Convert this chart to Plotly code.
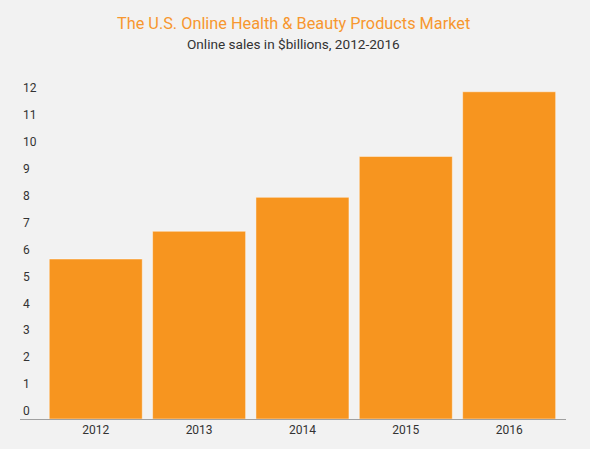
import plotly.graph_objects as go

years = ["2012", "2013", "2014", "2015", "2016"]
sales = [5.94, 6.97, 8.23, 9.75, 12.15]
y_ticks = list(range(0, 13))

title_text = "The U.S. Online Health &amp; Beauty Products Market"
subtitle_text = "Online sales in $billions, 2012-2016"

BG = "#f2f2f2"
ORANGE = "#f7951f"

Y_MAX = 13.33
LABEL_LIFT = 8 / 27.16  # tick labels sit about 8px above their value

fig = go.Figure()
fig.add_trace(
    go.Bar(
        x=years,
        y=sales,
        marker=dict(color=ORANGE, line=dict(color="rgba(255,255,255,0.45)", width=1)),
        hoverinfo="x+y",
    )
)
# invisible companion trace so the label axis (y2) is drawn
fig.add_trace(
    go.Scatter(
        x=years, y=sales, yaxis="y2", mode="markers",
        marker=dict(opacity=0), hoverinfo="skip", showlegend=False,
    )
)

fig.update_layout(
    width=590,
    height=449,
    paper_bgcolor=BG,
    plot_bgcolor=BG,
    margin=dict(l=20, r=24, t=60, b=27),
    bargap=0.1,
    showlegend=False,
    font=dict(family="Roboto", size=12, color="#333333"),
    annotations=[
        dict(text=title_text, x=0.5, y=1.102, xref="paper", yref="paper",
             xanchor="center", yanchor="middle", showarrow=False,
             font=dict(family="Roboto", size=16.3, color="#f7972f")),
        dict(text=subtitle_text, x=0.5, y=1.044, xref="paper", yref="paper",
             xanchor="center", yanchor="middle", showarrow=False,
             font=dict(family="Roboto", size=13.6, color="#333333")),
    ],
    xaxis=dict(
        type="category",
        range=[-0.733, 4.55],
        showline=True, linecolor="#a0a0a0", linewidth=1,
        ticks="", showgrid=False, zeroline=False,
        tickfont=dict(family="Roboto", size=12, color="#333333"),
    ),
    yaxis=dict(
        range=[0, Y_MAX],
        showticklabels=False,
        showline=False, showgrid=False, zeroline=False, ticks="",
    ),
    yaxis2=dict(
        overlaying="y",
        side="left",
        anchor="x",
        range=[-LABEL_LIFT, Y_MAX - LABEL_LIFT],
        tickvals=y_ticks,
        ticklabelposition="inside",
        showline=False, showgrid=False, zeroline=False, ticks="",
        tickfont=dict(family="Roboto", size=12, color="#333333"),
    ),
)

fig.write_html(
    "out.html",
    config={"displayModeBar": False},
    post_script="document.body.style.margin='0';document.body.style.background='#f2f2f2';",
)
